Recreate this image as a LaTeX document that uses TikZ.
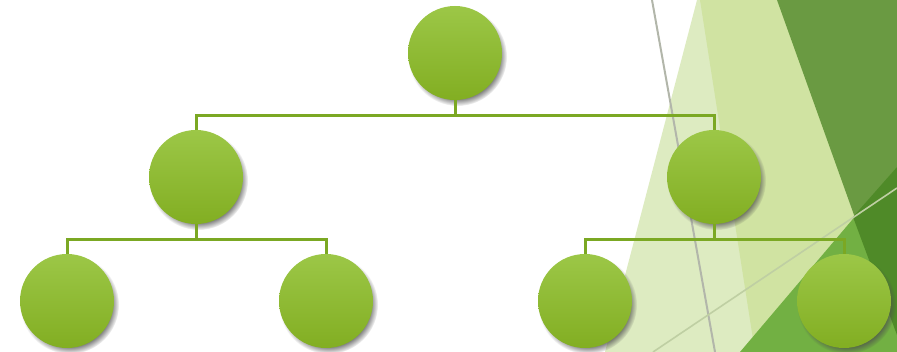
\documentclass[tikz,border=0pt]{standalone}
\usetikzlibrary{shadows}
\definecolor{lightA}{HTML}{DDEBC1}
\definecolor{lightB}{HTML}{D0E3A2}
\definecolor{darkG}{HTML}{6A9A42}
\definecolor{midG}{HTML}{72B043}
\definecolor{deepG}{HTML}{4F8A28}
\definecolor{conn}{HTML}{7BA823}
\definecolor{ctop}{HTML}{9CC747}
\definecolor{cbot}{HTML}{82AE22}
\definecolor{grayline}{HTML}{B2B6AA}
\definecolor{faintline}{HTML}{BFCFA3}
\tikzset{
  ball/.style={circle, minimum size=94pt, inner sep=0pt, top color=ctop, bottom color=cbot, draw=none,
    circular drop shadow={shadow xshift=2.5pt, shadow yshift=-3.5pt, shadow scale=1.05, opacity=0.7, fill=black!70}},
  connline/.style={draw=conn, line width=3pt}
}
\begin{document}
\begin{tikzpicture}[x=1pt,y=-1pt]
\useasboundingbox (0,0) rectangle (897,352);
\begin{scope}
\clip (0,0) rectangle (897,352);
\fill[lightA] (697,0) -- (897,0) -- (897,352) -- (605,352) -- cycle;
\fill[lightB] (700,0) -- (897,0) -- (897,352) -- (755,352) -- cycle;
\fill[darkG] (777,0) -- (897,0) -- (897,335) -- cycle;
\fill[midG] (740,352) -- (897,167) -- (897,352) -- cycle;
\fill[deepG] (853,217) -- (897,167) -- (897,335) -- cycle;
\draw[color=grayline, line width=2pt] (652,0) -- (715,352);
\draw[color=faintline, line width=1.6pt] (653,352) -- (897,188);
\end{scope}
\node[ball] (t) at (455,53) {};
\node[ball] (a) at (196,177) {};
\node[ball] (b) at (714,177) {};
\node[ball] (a1) at (67,301) {};
\node[ball] (a2) at (326,301) {};
\node[ball] (b1) at (585,301) {};
\node[ball] (b2) at (844,301) {};
\draw[connline] (t.south) -- ++(0,15) -| (a.north);
\draw[connline] (t.south) -- ++(0,15) -| (b.north);
\draw[connline] (a.south) -- ++(0,15) -| (a1.north);
\draw[connline] (a.south) -- ++(0,15) -| (a2.north);
\draw[connline] (b.south) -- ++(0,15) -| (b1.north);
\draw[connline] (b.south) -- ++(0,15) -| (b2.north);
\end{tikzpicture}
\end{document}
